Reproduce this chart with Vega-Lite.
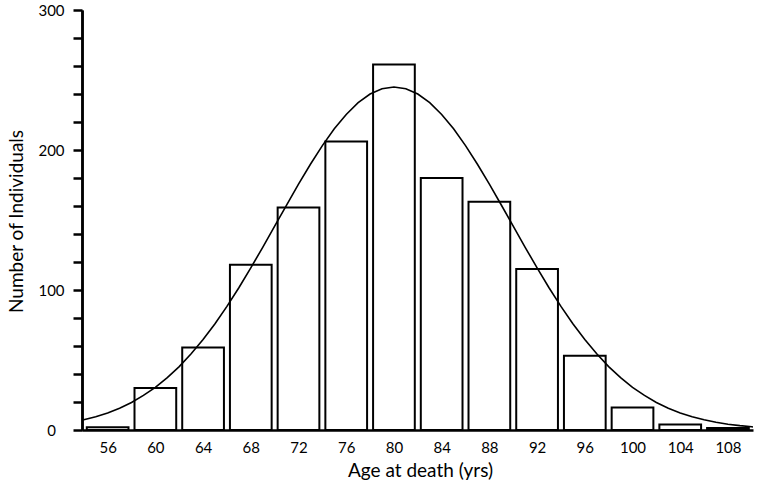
{
  "$schema": "https://vega.github.io/schema/vega-lite/v6.json",
  "autosize": {"type": "none"},
  "padding": {"left": 82, "top": 10, "right": 6, "bottom": 60},
  "width": 671,
  "height": 420,
  "background": "white",
  "config": {
    "view": {"stroke": null},
    "font": "Lato"
  },
  "datasets": {
    "bars": [
      {"age": 56, "start": 54, "end": 58, "count": 2},
      {"age": 60, "start": 58, "end": 62, "count": 30},
      {"age": 64, "start": 62, "end": 66, "count": 59},
      {"age": 68, "start": 66, "end": 70, "count": 118},
      {"age": 72, "start": 70, "end": 74, "count": 159},
      {"age": 76, "start": 74, "end": 78, "count": 206},
      {"age": 80, "start": 78, "end": 82, "count": 261},
      {"age": 84, "start": 82, "end": 86, "count": 180},
      {"age": 88, "start": 86, "end": 90, "count": 163},
      {"age": 92, "start": 90, "end": 94, "count": 115},
      {"age": 96, "start": 94, "end": 98, "count": 53},
      {"age": 100, "start": 98, "end": 102, "count": 16},
      {"age": 104, "start": 102, "end": 106, "count": 4},
      {"age": 108, "start": 106, "end": 110, "count": 1.5}
    ],
    "curve": [
      {"age": 53.9, "fit": 7.1},
      {"age": 54, "fit": 7.3},
      {"age": 55, "fit": 9.5},
      {"age": 56, "fit": 12.2},
      {"age": 57, "fit": 15.6},
      {"age": 58, "fit": 19.7},
      {"age": 59, "fit": 24.7},
      {"age": 60, "fit": 30.5},
      {"age": 61, "fit": 37.4},
      {"age": 62, "fit": 45.3},
      {"age": 63, "fit": 54.4},
      {"age": 64, "fit": 64.6},
      {"age": 65, "fit": 75.9},
      {"age": 66, "fit": 88.3},
      {"age": 67, "fit": 101.6},
      {"age": 68, "fit": 115.8},
      {"age": 69, "fit": 130.5},
      {"age": 70, "fit": 145.6},
      {"age": 71, "fit": 160.7},
      {"age": 72, "fit": 175.6},
      {"age": 73, "fit": 189.8},
      {"age": 74, "fit": 203.1},
      {"age": 75, "fit": 215.1},
      {"age": 76, "fit": 225.4},
      {"age": 77, "fit": 233.8},
      {"age": 78, "fit": 240.0},
      {"age": 79, "fit": 243.7},
      {"age": 80, "fit": 245.0},
      {"age": 81, "fit": 243.7},
      {"age": 82, "fit": 240.0},
      {"age": 83, "fit": 233.8},
      {"age": 84, "fit": 225.4},
      {"age": 85, "fit": 215.1},
      {"age": 86, "fit": 203.1},
      {"age": 87, "fit": 189.8},
      {"age": 88, "fit": 175.6},
      {"age": 89, "fit": 160.7},
      {"age": 90, "fit": 145.6},
      {"age": 91, "fit": 130.5},
      {"age": 92, "fit": 115.8},
      {"age": 93, "fit": 101.6},
      {"age": 94, "fit": 88.3},
      {"age": 95, "fit": 75.9},
      {"age": 96, "fit": 64.6},
      {"age": 97, "fit": 54.4},
      {"age": 98, "fit": 45.3},
      {"age": 99, "fit": 37.4},
      {"age": 100, "fit": 30.5},
      {"age": 101, "fit": 24.7},
      {"age": 102, "fit": 19.7},
      {"age": 103, "fit": 15.6},
      {"age": 104, "fit": 12.2},
      {"age": 105, "fit": 9.5},
      {"age": 106, "fit": 7.3},
      {"age": 107, "fit": 5.5},
      {"age": 108, "fit": 4.1},
      {"age": 109, "fit": 3.1},
      {"age": 110, "fit": 2.3},
      {"age": 110.1, "fit": 2.2}
    ]
  },
  "resolve": {"axis": {"y": "independent"}},
  "layer": [
    {
      "data": {"name": "bars"},
      "mark": {"type": "bar", "fill": "white", "stroke": "black", "strokeWidth": 2, "xOffset": 3, "x2Offset": -3, "clip": false},
      "encoding": {
        "x": {
          "field": "start", "type": "quantitative",
          "scale": {"domain": [53.85, 110.1], "nice": false, "zero": false},
          "axis": {
            "values": [56, 60, 64, 68, 72, 76, 80, 84, 88, 92, 96, 100, 104, 108],
            "ticks": false, "tickSize": 0, "grid": false,
            "domainColor": "black", "domainWidth": 2.5,
            "labelFont": "Lato", "labelFontSize": 15, "labelColor": "black",
            "labelBaseline": "middle", "labelPadding": 17.5, "labelFlush": false,
            "labelOverlap": false,
            "title": "Age at death (yrs)", "titleFont": "Lato", "titleFontSize": 19,
            "titleFontWeight": "normal", "titleColor": "black",
            "titleX": 338, "titleY": 40, "titleBaseline": "middle", "titleAlign": "center"
          }
        },
        "x2": {"field": "end"},
        "y": {
          "field": "count", "type": "quantitative",
          "scale": {"domain": [0, 300], "nice": false},
          "axis": {
            "orient": "left",
            "values": [0, 100, 200, 300],
            "labelOverlap": false,
            "grid": false, "tickSize": 9, "tickWidth": 2.5, "tickColor": "black",
            "domainColor": "black", "domainWidth": 2.5,
            "labelFont": "Lato", "labelFontSize": 15, "labelColor": "black",
            "labelAlign": "center", "labelBaseline": "middle", "labelPadding": 22,
            "labelFlush": false,
            "title": "Number of Individuals", "titleFont": "Lato", "titleFontSize": 19,
            "titleFontWeight": "normal", "titleColor": "black",
            "titleX": -66, "titleY": 211, "titleAngle": -90,
            "titleAlign": "center", "titleBaseline": "middle"
          }
        },
        "y2": {"datum": 0}
      }
    },
    {
      "data": {"name": "curve"},
      "mark": {"type": "line", "color": "black", "strokeWidth": 1.6},
      "encoding": {
        "x": {"field": "age", "type": "quantitative"},
        "y": {
          "field": "fit", "type": "quantitative",
          "axis": {
            "orient": "left",
            "values": [20, 40, 60, 80, 120, 140, 160, 180, 220, 240, 260, 280],
            "labels": false, "grid": false, "title": null,
            "tickSize": 9, "tickWidth": 2.5, "tickColor": "black",
            "domainColor": "black", "domainWidth": 2.5
          }
        }
      }
    }
  ]
}
